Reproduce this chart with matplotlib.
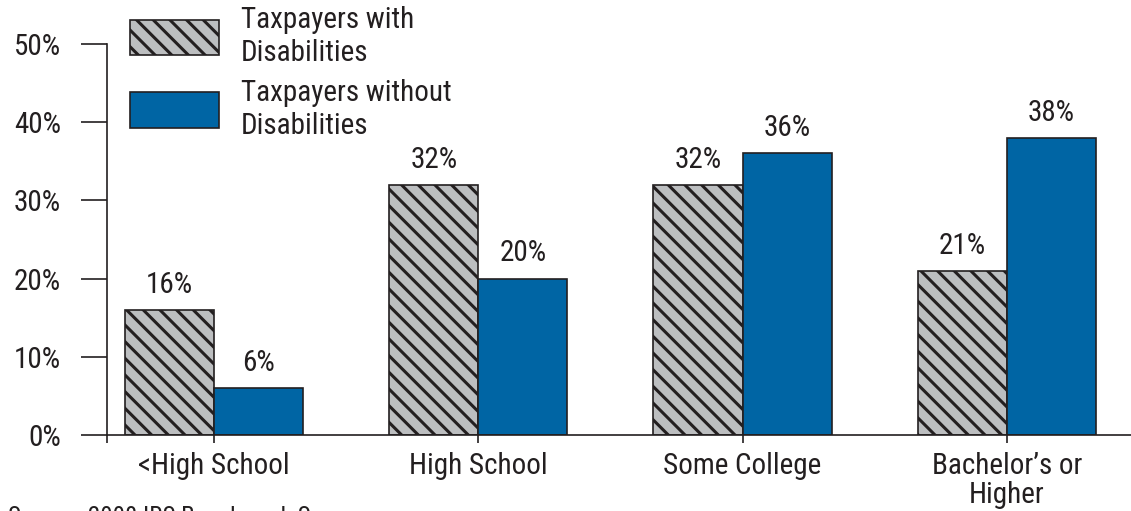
import matplotlib.pyplot as plt
from matplotlib.patches import Rectangle
from matplotlib import font_manager
import numpy as np

# Education level of taxpayers, with and without disabilities
categories = ['<High School', 'High School', 'Some College', 'Bachelor\u2019s or\nHigher']
with_disab = [16, 32, 32, 21]
without_disab = [6, 20, 36, 38]
series_names = ['Taxpayers with\nDisabilities', 'Taxpayers without\nDisabilities']

gray = '#bcbec0'
blue = '#0065a4'
edge = '#231f20'

names = {f.name for f in font_manager.fontManager.ttflist}
narrow = [n for n in ('Roboto Condensed', 'Liberation Sans Narrow', 'Open Sans Condensed')
          if n in names]
plt.rcParams['font.family'] = narrow + ['Roboto', 'DejaVu Sans']
plt.rcParams['hatch.linewidth'] = 2.2
plt.rcParams['hatch.color'] = edge
fs = 21

fig = plt.figure(figsize=(11.31, 5.11), dpi=100)
ax = fig.add_axes([107 / 1131, 76 / 511, 1024 / 1131, 391 / 511])

x = np.arange(len(categories))
w = 0.337
b1 = ax.bar(x - w / 2, with_disab, w, color=gray, edgecolor=edge, linewidth=1.2,
            hatch='\\\\')
b2 = ax.bar(x + w / 2, without_disab, w, color=blue, edgecolor=edge, linewidth=1.2)

for bars, vals in ((b1, with_disab), (b2, without_disab)):
    for r, v in zip(bars, vals):
        ax.annotate(f'{v}%', (r.get_x() + r.get_width() / 2, v), xytext=(0, 8),
                    textcoords='offset points', ha='center', va='bottom',
                    fontsize=fs, color=edge)

ax.set_xlim(-0.405, 3.47)
ax.set_ylim(0, 50)
ax.set_yticks(range(0, 51, 10))
ax.set_yticklabels([f'{t}%' for t in range(0, 51, 10)], fontsize=fs, color=edge)
ax.tick_params(axis='y', length=19, width=1.2, color=edge, pad=14)

ax.set_xticks(list(x) + [-0.405])
ax.set_xticklabels(categories + [''], fontsize=fs, color=edge, linespacing=1.08)
ax.tick_params(axis='x', length=6, width=1.2, color=edge, pad=6)

for s in ('top', 'right'):
    ax.spines[s].set_visible(False)
for s in ('left', 'bottom'):
    ax.spines[s].set_linewidth(1.2)
    ax.spines[s].set_color(edge)

# legend boxes drawn above the plot area
boxes = [(gray, '\\\\'), (blue, None)]
for i, ((fc, h), name) in enumerate(zip(boxes, series_names)):
    y0 = 48.6 - i * 9.3
    ax.add_patch(Rectangle((-0.318, y0), 0.337, 4.5, facecolor=fc, edgecolor=edge,
                           linewidth=1.2, hatch=h, clip_on=False))
    ax.text(0.102, y0 + 2.35, name, fontsize=fs, color=edge, va='center',
            ha='left', linespacing=1.25)

fig.text(0.007, 5 / 511, 'Source: 2008 IRS Benchmark Survey', fontsize=18,
         color=edge, va='top', ha='left')

fig.savefig('out.png', dpi=100)
